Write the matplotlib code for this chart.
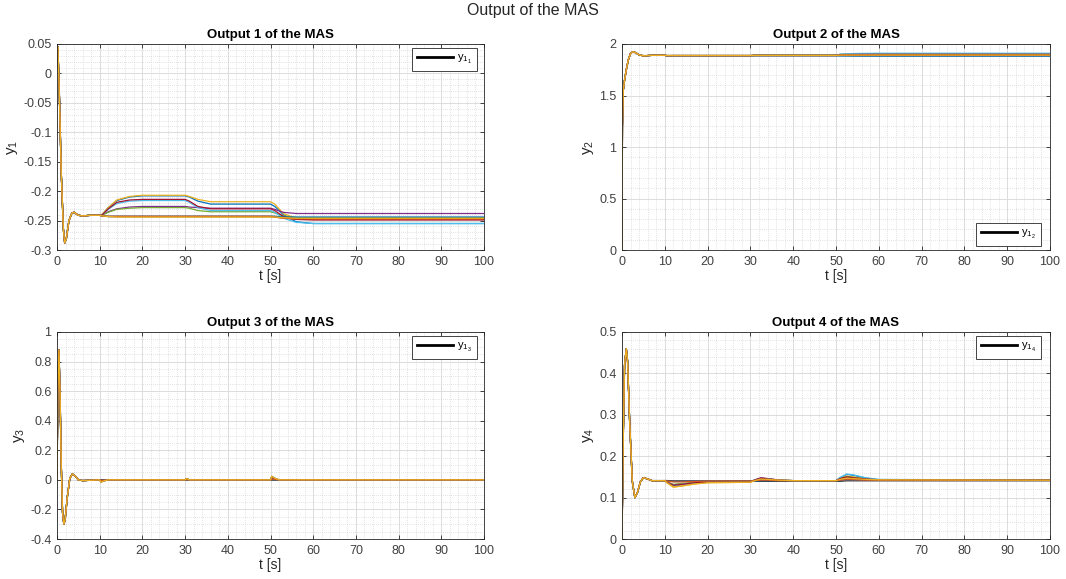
import numpy as np
import matplotlib
matplotlib.use('Agg')
import matplotlib.pyplot as plt
from matplotlib.ticker import MultipleLocator, FuncFormatter

plt.rcParams['font.family'] = ['Liberation Sans', 'DejaVu Sans']
plt.rcParams['mathtext.fontset'] = 'custom'
plt.rcParams['mathtext.rm'] = 'Liberation Sans'
plt.rcParams['axes.unicode_minus'] = False

# MATLAB default colour order, 10 agents
agent_colors = ['#0072BD', '#D95319', '#EDB120', '#7E2F8E', '#77AC30',
                '#4DBEEE', '#A2142F', '#0072BD', '#D95319', '#EDB120']

# ---------------- output 1 ----------------
t1_head = [0, 0.2, 0.5, 1.0, 1.5, 1.8, 2.2, 2.8, 3.5, 4.0, 5.0, 6.0, 8.0, 10.0]
y1_head = [0.035, 0.045, -0.02, -0.17, -0.265, -0.288, -0.28, -0.25, -0.237, -0.236,
           -0.241, -0.242, -0.241, -0.241]
t1_tail = [10.5, 12, 14, 17, 20, 30, 31, 33, 36, 50, 51, 53, 56, 60, 100]
y1_tails = [
    [-0.240, -0.228, -0.216, -0.210, -0.208, -0.208, -0.210, -0.217, -0.222, -0.222, -0.226, -0.240, -0.252, -0.255, -0.255],
    [-0.242, -0.243, -0.243, -0.243, -0.243, -0.243, -0.243, -0.243, -0.243, -0.243, -0.244, -0.246, -0.248, -0.248, -0.248],
    [-0.240, -0.228, -0.215, -0.209, -0.207, -0.207, -0.209, -0.214, -0.218, -0.218, -0.222, -0.238, -0.246, -0.247, -0.247],
    [-0.241, -0.235, -0.230, -0.227, -0.226, -0.226, -0.227, -0.228, -0.229, -0.229, -0.231, -0.236, -0.238, -0.238, -0.238],
    [-0.241, -0.236, -0.231, -0.229, -0.228, -0.228, -0.229, -0.233, -0.235, -0.235, -0.237, -0.242, -0.245, -0.245, -0.245],
    [-0.241, -0.231, -0.221, -0.217, -0.216, -0.216, -0.219, -0.228, -0.233, -0.233, -0.236, -0.246, -0.253, -0.255, -0.255],
    [-0.241, -0.230, -0.219, -0.215, -0.214, -0.214, -0.217, -0.226, -0.230, -0.230, -0.233, -0.243, -0.248, -0.249, -0.249],
    [-0.242, -0.243, -0.243, -0.243, -0.243, -0.243, -0.243, -0.243, -0.243, -0.243, -0.243, -0.244, -0.244, -0.244, -0.244],
    [-0.242, -0.243, -0.243, -0.243, -0.243, -0.243, -0.243, -0.243, -0.243, -0.243, -0.244, -0.246, -0.247, -0.247, -0.247],
    [-0.242, -0.243, -0.244, -0.244, -0.244, -0.244, -0.244, -0.244, -0.244, -0.244, -0.244, -0.245, -0.246, -0.246, -0.246],
]
y1_ref_tail = [-0.242, -0.243, -0.243, -0.243, -0.243, -0.243, -0.243, -0.243, -0.243, -0.243, -0.243, -0.244, -0.245, -0.245, -0.245]

# ---------------- output 2 ----------------
t2_head = [0, 0.1, 0.3, 0.6, 1.0, 1.5, 2.0, 2.6, 3.2, 4.0, 5.0, 7.0, 10.0]
y2_head = [0, 1.2, 1.55, 1.65, 1.75, 1.85, 1.91, 1.925, 1.915, 1.895, 1.885, 1.89, 1.89]
t2_tail = [10.5, 12, 20, 30, 31, 35, 50, 51, 55, 60, 100]
y2_tails = [
    [1.885, 1.885, 1.885, 1.885, 1.887, 1.887, 1.887, 1.885, 1.884, 1.883, 1.883],
    [1.887, 1.888, 1.888, 1.888, 1.889, 1.889, 1.889, 1.893, 1.895, 1.895, 1.895],
    [1.884, 1.886, 1.886, 1.886, 1.890, 1.890, 1.890, 1.900, 1.905, 1.906, 1.906],
    [1.886, 1.887, 1.887, 1.887, 1.889, 1.889, 1.889, 1.892, 1.894, 1.894, 1.894],
    [1.886, 1.887, 1.887, 1.887, 1.890, 1.891, 1.891, 1.898, 1.900, 1.901, 1.901],
    [1.885, 1.886, 1.886, 1.886, 1.889, 1.890, 1.890, 1.903, 1.908, 1.910, 1.910],
    [1.886, 1.887, 1.887, 1.887, 1.890, 1.890, 1.890, 1.897, 1.899, 1.900, 1.900],
    [1.888, 1.888, 1.888, 1.888, 1.888, 1.888, 1.888, 1.889, 1.889, 1.889, 1.889],
    [1.888, 1.888, 1.888, 1.888, 1.888, 1.888, 1.888, 1.890, 1.891, 1.891, 1.891],
    [1.888, 1.888, 1.888, 1.888, 1.889, 1.889, 1.889, 1.893, 1.893, 1.893, 1.893],
]
y2_ref_tail = [1.886, 1.887, 1.887, 1.887, 1.888, 1.888, 1.888, 1.888, 1.887, 1.887, 1.887]

# ---------------- output 3 ----------------
t3_head = [0, 0.2, 0.45, 0.7, 1.0, 1.3, 1.6, 1.9, 2.4, 3.0, 3.6, 4.3, 5.0, 6.0, 10.0]
y3_head = [0, 0.6, 0.88, 0.6, 0.1, -0.22, -0.30, -0.27, -0.12, 0.01, 0.04, 0.025, 0.0, -0.005, 0.0]
t3_tail = [10.3, 10.8, 12, 30, 30.3, 31, 50, 50.3, 51, 52, 100]
y3_tails = [
    [-0.015, -0.008, 0, 0, 0.008, 0, 0, 0.022, 0.010, 0, 0],
    [-0.005, -0.002, 0, 0, 0.003, 0, 0, 0.008, 0.004, 0, 0],
    [-0.016, -0.009, 0, 0, 0.009, 0, 0, 0.025, 0.012, 0, 0],
    [-0.010, -0.005, 0, 0, 0.006, 0, 0, 0.015, 0.007, 0, 0],
    [-0.012, -0.006, 0, 0, 0.007, 0, 0, 0.018, 0.008, 0, 0],
    [-0.014, -0.007, 0, 0, 0.008, 0, 0, 0.024, 0.011, 0, 0],
    [-0.013, -0.007, 0, 0, 0.008, 0, 0, 0.020, 0.009, 0, 0],
    [-0.003, -0.001, 0, 0, 0.002, 0, 0, 0.005, 0.002, 0, 0],
    [-0.004, -0.002, 0, 0, 0.002, 0, 0, 0.006, 0.003, 0, 0],
    [-0.016, -0.008, 0, 0, 0.009, 0, 0, 0.024, 0.011, 0, 0],
]
y3_ref_tail = [0, 0, 0, 0, 0, 0, 0, 0, 0, 0, 0]

# ---------------- output 4 ----------------
t4_head = [0, 0.3, 0.6, 1.0, 1.3, 1.8, 2.4, 3.0, 3.6, 4.3, 5.0, 6.0, 7.0, 10.0]
y4_head = [0, 0.25, 0.42, 0.46, 0.43, 0.28, 0.14, 0.10, 0.112, 0.138, 0.148, 0.145, 0.141, 0.141]
t4_tail = [10.5, 12, 14, 17, 20, 30, 31, 32.5, 34, 37, 40, 50, 51, 52.5, 54, 57, 60, 100]
y4_tails = [
    [0.137, 0.129, 0.131, 0.135, 0.137, 0.138, 0.142, 0.146, 0.145, 0.142, 0.141, 0.141, 0.148, 0.156, 0.154, 0.147, 0.143, 0.142],
    [0.140, 0.139, 0.139, 0.140, 0.140, 0.140, 0.141, 0.142, 0.142, 0.141, 0.141, 0.141, 0.142, 0.144, 0.143, 0.142, 0.142, 0.142],
    [0.136, 0.125, 0.128, 0.133, 0.136, 0.137, 0.142, 0.147, 0.146, 0.142, 0.141, 0.141, 0.147, 0.152, 0.150, 0.145, 0.143, 0.142],
    [0.138, 0.131, 0.133, 0.136, 0.138, 0.139, 0.143, 0.148, 0.146, 0.142, 0.141, 0.141, 0.145, 0.148, 0.147, 0.144, 0.142, 0.142],
    [0.138, 0.132, 0.134, 0.137, 0.138, 0.139, 0.142, 0.145, 0.144, 0.142, 0.141, 0.141, 0.146, 0.151, 0.149, 0.145, 0.143, 0.142],
    [0.137, 0.130, 0.132, 0.135, 0.137, 0.138, 0.142, 0.146, 0.145, 0.142, 0.141, 0.141, 0.149, 0.157, 0.155, 0.148, 0.144, 0.142],
    [0.137, 0.130, 0.132, 0.136, 0.137, 0.138, 0.142, 0.147, 0.145, 0.142, 0.141, 0.141, 0.146, 0.150, 0.148, 0.145, 0.143, 0.142],
    [0.140, 0.139, 0.139, 0.140, 0.140, 0.140, 0.140, 0.141, 0.141, 0.141, 0.141, 0.141, 0.141, 0.142, 0.142, 0.142, 0.142, 0.142],
    [0.140, 0.138, 0.138, 0.139, 0.140, 0.140, 0.141, 0.142, 0.142, 0.141, 0.141, 0.141, 0.142, 0.143, 0.143, 0.142, 0.142, 0.142],
    [0.136, 0.126, 0.128, 0.133, 0.136, 0.137, 0.141, 0.145, 0.144, 0.142, 0.141, 0.141, 0.144, 0.147, 0.146, 0.144, 0.143, 0.142],
]
y4_ref_tail = [0.141, 0.140, 0.140, 0.140, 0.140, 0.140, 0.140, 0.140, 0.140, 0.140, 0.140, 0.140, 0.140, 0.141, 0.141, 0.141, 0.141, 0.141]

panels = [
    (t1_head, y1_head, t1_tail, y1_tails, y1_ref_tail, (-0.3, 0.05), 0.05, 0.01),
    (t2_head, y2_head, t2_tail, y2_tails, y2_ref_tail, (0, 2), 0.5, 0.1),
    (t3_head, y3_head, t3_tail, y3_tails, y3_ref_tail, (-0.4, 1), 0.2, 0.05),
    (t4_head, y4_head, t4_tail, y4_tails, y4_ref_tail, (0, 0.5), 0.1, 0.02),
]

W, H = 1066, 579
fig = plt.figure(figsize=(W / 100, H / 100), dpi=100)
rects = [
    (57 / W, 1 - 250 / H, 427 / W, 206 / H),
    (622 / W, 1 - 250 / H, 428 / W, 206 / H),
    (57 / W, 1 - 539 / H, 427 / W, 207 / H),
    (622 / W, 1 - 539 / H, 428 / W, 207 / H),
]
# legend anchors (axes fraction): upper right for 1, 3, 4; lower right for 2
leg_pos = [('upper right', (0.984, 0.982)), ('lower right', (0.979, 0.02)),
           ('upper right', (0.984, 0.982)), ('upper right', (0.979, 0.982))]

fmt = FuncFormatter(lambda v, p: '%g' % round(v, 6))

for k, (th, yh, tt, tails, reft, ylim, ymaj, ymin) in enumerate(panels):
    ax = fig.add_axes(rects[k])
    t = th + tt
    ax.plot(t, yh + reft, color='black', lw=1.0, label=r'$\mathregular{y_{1_{%d}}}$' % (k + 1))
    for c, tail in zip(agent_colors, tails):
        ax.plot(t, yh + tail, color=c, lw=0.9)
    ax.set_xlim(0, 100)
    ax.set_ylim(*ylim)
    ax.xaxis.set_major_locator(MultipleLocator(10))
    ax.xaxis.set_minor_locator(MultipleLocator(2))
    ax.yaxis.set_major_locator(MultipleLocator(ymaj))
    ax.yaxis.set_minor_locator(MultipleLocator(ymin))
    ax.xaxis.set_major_formatter(fmt)
    ax.yaxis.set_major_formatter(fmt)
    ax.grid(which='major', color='#dcdcdc', lw=0.7, ls='-')
    ax.grid(which='minor', color='#c8c8c8', lw=0.5, ls=(0, (1, 2)))
    ax.set_axisbelow(True)
    ax.tick_params(which='major', direction='in', top=True, right=True, length=3,
                   width=0.6, labelsize=9, colors='#262626', pad=4)
    ax.tick_params(which='major', labelcolor='#404040')
    ax.tick_params(which='minor', length=0)
    for s in ax.spines.values():
        s.set_color('#262626')
        s.set_linewidth(0.6)
    ax.set_title('Output %d of the MAS' % (k + 1), fontsize=9.5, fontweight='bold', pad=4)
    ax.set_xlabel('t [s]', fontsize=10, color='#262626', labelpad=1)
    ax.set_ylabel(r'$\mathregular{y_{%d}}$' % (k + 1), fontsize=11, color='#262626', labelpad=2)
    loc, anchor = leg_pos[k]
    leg = ax.legend(loc=loc, bbox_to_anchor=anchor, borderaxespad=0, fontsize=8,
                    fancybox=False, framealpha=1, handlelength=3.2, handletextpad=0.4,
                    borderpad=0.45)
    leg.get_frame().set_edgecolor('#262626')
    leg.get_frame().set_linewidth(0.6)
    for ln in leg.get_lines():
        ln.set_linewidth(2)

fig.text(0.5, 1 - 10 / H, 'Output of the MAS', fontsize=11.5, ha='center', va='center',
         color='#262626')
fig.savefig('out.png', dpi=100, facecolor='white')
